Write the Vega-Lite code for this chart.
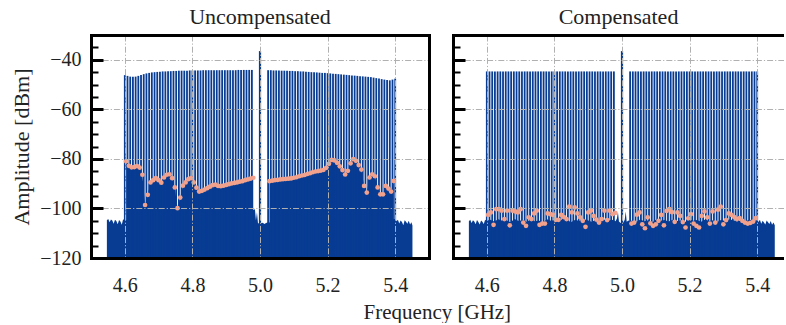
{
"$schema": "https://vega.github.io/schema/vega-lite/v6.json",
"background": "white",
"padding": {"left": 10, "top": 6, "right": 0, "bottom": 0},
"spacing": 24,
"bounds": "flush",
"config": {"view": {"stroke": null}, "font": "Liberation Serif, DejaVu Serif, serif", "title": {"font": "Liberation Serif, DejaVu Serif, serif", "fontWeight": "normal", "color": "#222222"}},
"title": {"text": "Frequency [GHz]", "orient": "bottom", "anchor": "middle", "fontSize": 21, "offset": 7, "dx": 40},
"datasets": {
"lo": [{"p":"U","f":5.0,"v":-36.5},{"p":"C","f":5.0,"v":-36.5}],
"floor": [
{"p":"U","f":4.547,"v":-104.8},{"p":"U","f":4.551,"v":-104.3},{"p":"U","f":4.555,"v":-105.6},{"p":"U","f":4.559,"v":-104.5},{"p":"U","f":4.563,"v":-104.9},{"p":"U","f":4.567,"v":-106.2},{"p":"U","f":4.571,"v":-104.6},{"p":"U","f":4.575,"v":-105.1},{"p":"U","f":4.579,"v":-106.4},{"p":"U","f":4.583,"v":-104.7},{"p":"U","f":4.587,"v":-105.3},{"p":"U","f":4.591,"v":-106.6},{"p":"U","f":4.595,"v":-104.4},{"p":"U","f":4.599,"v":-104.8},
{"p":"U","f":4.982,"v":-100.5},{"p":"U","f":4.985,"v":-100.3},{"p":"U","f":4.988,"v":-104.8},{"p":"U","f":4.991,"v":-101.5},{"p":"U","f":4.994,"v":-105.9},{"p":"U","f":4.998,"v":-106.2},{"p":"U","f":5.003,"v":-106.0},{"p":"U","f":5.008,"v":-105.8},{"p":"U","f":5.013,"v":-106.3},{"p":"U","f":5.018,"v":-105.9},{"p":"U","f":5.022,"v":-105.7},
{"p":"U","f":5.400,"v":-104.3},{"p":"U","f":5.404,"v":-105.2},{"p":"U","f":5.408,"v":-104.6},{"p":"U","f":5.412,"v":-106.1},{"p":"U","f":5.416,"v":-104.9},{"p":"U","f":5.420,"v":-105.5},{"p":"U","f":5.424,"v":-106.8},{"p":"U","f":5.428,"v":-104.8},{"p":"U","f":5.432,"v":-105.4},{"p":"U","f":5.436,"v":-106.2},{"p":"U","f":5.440,"v":-105.0},{"p":"U","f":5.444,"v":-106.5},{"p":"U","f":5.448,"v":-105.6},{"p":"U","f":5.451,"v":-106.9},
{"p":"C","f":4.547,"v":-105.2},{"p":"C","f":4.551,"v":-104.6},{"p":"C","f":4.555,"v":-105.9},{"p":"C","f":4.559,"v":-104.8},{"p":"C","f":4.563,"v":-105.3},{"p":"C","f":4.567,"v":-106.4},{"p":"C","f":4.571,"v":-104.7},{"p":"C","f":4.575,"v":-105.5},{"p":"C","f":4.579,"v":-106.5},{"p":"C","f":4.583,"v":-104.9},{"p":"C","f":4.587,"v":-105.4},{"p":"C","f":4.591,"v":-106.3},{"p":"C","f":4.595,"v":-104.6},{"p":"C","f":4.599,"v":-105.0},
{"p":"C","f":4.610,"v":-104.6},{"p":"C","f":4.622,"v":-105.3},{"p":"C","f":4.634,"v":-104.4},{"p":"C","f":4.646,"v":-105.0},{"p":"C","f":4.658,"v":-104.8},{"p":"C","f":4.670,"v":-105.6},{"p":"C","f":4.682,"v":-104.3},{"p":"C","f":4.694,"v":-105.1},{"p":"C","f":4.706,"v":-104.7},{"p":"C","f":4.718,"v":-105.4},{"p":"C","f":4.730,"v":-104.5},{"p":"C","f":4.742,"v":-105.2},{"p":"C","f":4.754,"v":-104.9},{"p":"C","f":4.766,"v":-105.7},{"p":"C","f":4.778,"v":-104.4},{"p":"C","f":4.790,"v":-105.0},{"p":"C","f":4.802,"v":-104.6},{"p":"C","f":4.814,"v":-105.3},{"p":"C","f":4.826,"v":-104.2},{"p":"C","f":4.838,"v":-104.9},{"p":"C","f":4.850,"v":-105.5},{"p":"C","f":4.862,"v":-104.6},{"p":"C","f":4.874,"v":-105.1},{"p":"C","f":4.886,"v":-104.3},{"p":"C","f":4.898,"v":-104.8},{"p":"C","f":4.910,"v":-105.4},{"p":"C","f":4.922,"v":-104.7},{"p":"C","f":4.934,"v":-105.2},{"p":"C","f":4.946,"v":-104.5},{"p":"C","f":4.958,"v":-105.0},{"p":"C","f":4.970,"v":-104.6},
{"p":"C","f":4.976,"v":-104.8},{"p":"C","f":4.981,"v":-105.2},{"p":"C","f":4.985,"v":-104.1},{"p":"C","f":4.988,"v":-101.4},{"p":"C","f":4.991,"v":-105.3},{"p":"C","f":4.996,"v":-105.9},{"p":"C","f":5.004,"v":-105.7},{"p":"C","f":5.008,"v":-104.6},{"p":"C","f":5.011,"v":-101.2},{"p":"C","f":5.014,"v":-105.4},{"p":"C","f":5.019,"v":-104.9},{"p":"C","f":5.024,"v":-105.2},
{"p":"C","f":5.030,"v":-104.9},{"p":"C","f":5.042,"v":-105.5},{"p":"C","f":5.054,"v":-104.5},{"p":"C","f":5.066,"v":-105.2},{"p":"C","f":5.078,"v":-104.8},{"p":"C","f":5.090,"v":-105.6},{"p":"C","f":5.102,"v":-104.4},{"p":"C","f":5.114,"v":-105.0},{"p":"C","f":5.126,"v":-104.7},{"p":"C","f":5.138,"v":-105.3},{"p":"C","f":5.150,"v":-104.6},{"p":"C","f":5.162,"v":-105.1},{"p":"C","f":5.174,"v":-104.9},{"p":"C","f":5.186,"v":-105.6},{"p":"C","f":5.198,"v":-104.3},{"p":"C","f":5.210,"v":-105.0},{"p":"C","f":5.222,"v":-104.7},{"p":"C","f":5.234,"v":-105.4},{"p":"C","f":5.246,"v":-104.5},{"p":"C","f":5.258,"v":-105.1},{"p":"C","f":5.270,"v":-104.8},{"p":"C","f":5.282,"v":-105.5},{"p":"C","f":5.294,"v":-104.6},{"p":"C","f":5.306,"v":-105.2},{"p":"C","f":5.318,"v":-104.4},{"p":"C","f":5.330,"v":-104.9},{"p":"C","f":5.342,"v":-105.3},{"p":"C","f":5.354,"v":-104.7},{"p":"C","f":5.366,"v":-105.1},{"p":"C","f":5.378,"v":-104.6},{"p":"C","f":5.390,"v":-105.0},
{"p":"C","f":5.400,"v":-104.8},{"p":"C","f":5.404,"v":-105.5},{"p":"C","f":5.408,"v":-104.6},{"p":"C","f":5.412,"v":-106.2},{"p":"C","f":5.416,"v":-105.0},{"p":"C","f":5.420,"v":-105.7},{"p":"C","f":5.424,"v":-106.5},{"p":"C","f":5.428,"v":-104.9},{"p":"C","f":5.432,"v":-105.6},{"p":"C","f":5.436,"v":-106.3},{"p":"C","f":5.440,"v":-105.1},{"p":"C","f":5.444,"v":-106.6},{"p":"C","f":5.448,"v":-105.7},{"p":"C","f":5.452,"v":-106.8}
],
"tones": [
{"p":"U","f":4.600,"v":-46.2},{"p":"U","f":4.608,"v":-46.5},{"p":"U","f":4.616,"v":-46.8},{"p":"U","f":4.624,"v":-46.9},{"p":"U","f":4.632,"v":-46.8},{"p":"U","f":4.640,"v":-46.5},{"p":"U","f":4.648,"v":-46.1},{"p":"U","f":4.656,"v":-45.8},{"p":"U","f":4.664,"v":-45.5},{"p":"U","f":4.672,"v":-45.3},{"p":"U","f":4.680,"v":-45.1},{"p":"U","f":4.688,"v":-45.0},{"p":"U","f":4.696,"v":-44.9},{"p":"U","f":4.704,"v":-44.8},{"p":"U","f":4.712,"v":-44.7},{"p":"U","f":4.720,"v":-44.7},{"p":"U","f":4.728,"v":-44.6},{"p":"U","f":4.736,"v":-44.6},{"p":"U","f":4.744,"v":-44.5},{"p":"U","f":4.752,"v":-44.5},{"p":"U","f":4.760,"v":-44.4},{"p":"U","f":4.768,"v":-44.4},{"p":"U","f":4.776,"v":-44.4},{"p":"U","f":4.784,"v":-44.4},{"p":"U","f":4.792,"v":-44.3},{"p":"U","f":4.800,"v":-44.3},{"p":"U","f":4.808,"v":-44.3},{"p":"U","f":4.816,"v":-44.3},{"p":"U","f":4.824,"v":-44.3},{"p":"U","f":4.832,"v":-44.2},{"p":"U","f":4.840,"v":-44.2},{"p":"U","f":4.848,"v":-44.2},{"p":"U","f":4.856,"v":-44.2},{"p":"U","f":4.864,"v":-44.2},{"p":"U","f":4.872,"v":-44.2},{"p":"U","f":4.880,"v":-44.2},{"p":"U","f":4.888,"v":-44.2},{"p":"U","f":4.896,"v":-44.2},{"p":"U","f":4.904,"v":-44.2},{"p":"U","f":4.912,"v":-44.2},{"p":"U","f":4.920,"v":-44.2},{"p":"U","f":4.928,"v":-44.2},{"p":"U","f":4.936,"v":-44.1},{"p":"U","f":4.944,"v":-44.1},{"p":"U","f":4.952,"v":-44.1},{"p":"U","f":4.960,"v":-44.1},{"p":"U","f":4.968,"v":-44.1},{"p":"U","f":4.976,"v":-44.1},
{"p":"U","f":5.024,"v":-44.2},{"p":"U","f":5.032,"v":-44.2},{"p":"U","f":5.040,"v":-44.3},{"p":"U","f":5.048,"v":-44.3},{"p":"U","f":5.056,"v":-44.3},{"p":"U","f":5.064,"v":-44.4},{"p":"U","f":5.072,"v":-44.4},{"p":"U","f":5.080,"v":-44.4},{"p":"U","f":5.088,"v":-44.5},{"p":"U","f":5.096,"v":-44.5},{"p":"U","f":5.104,"v":-44.6},{"p":"U","f":5.112,"v":-44.6},{"p":"U","f":5.120,"v":-44.7},{"p":"U","f":5.128,"v":-44.7},{"p":"U","f":5.136,"v":-44.8},{"p":"U","f":5.144,"v":-44.9},{"p":"U","f":5.152,"v":-45.0},{"p":"U","f":5.160,"v":-45.0},{"p":"U","f":5.168,"v":-45.1},{"p":"U","f":5.176,"v":-45.2},{"p":"U","f":5.184,"v":-45.3},{"p":"U","f":5.192,"v":-45.3},{"p":"U","f":5.200,"v":-45.4},{"p":"U","f":5.208,"v":-45.5},{"p":"U","f":5.216,"v":-45.6},{"p":"U","f":5.224,"v":-45.7},{"p":"U","f":5.232,"v":-45.8},{"p":"U","f":5.240,"v":-45.9},{"p":"U","f":5.248,"v":-46.0},{"p":"U","f":5.256,"v":-46.1},{"p":"U","f":5.264,"v":-46.2},{"p":"U","f":5.272,"v":-46.3},{"p":"U","f":5.280,"v":-46.4},{"p":"U","f":5.288,"v":-46.5},{"p":"U","f":5.296,"v":-46.6},{"p":"U","f":5.304,"v":-46.7},{"p":"U","f":5.312,"v":-46.8},{"p":"U","f":5.320,"v":-46.9},{"p":"U","f":5.328,"v":-47.0},{"p":"U","f":5.336,"v":-47.2},{"p":"U","f":5.344,"v":-47.4},{"p":"U","f":5.352,"v":-47.6},{"p":"U","f":5.360,"v":-47.8},{"p":"U","f":5.368,"v":-48.0},{"p":"U","f":5.376,"v":-48.2},{"p":"U","f":5.384,"v":-48.3},{"p":"U","f":5.392,"v":-48.0},{"p":"U","f":5.400,"v":-47.6},
{"p":"C","f":4.600,"v":-44.7},{"p":"C","f":4.608,"v":-44.7},{"p":"C","f":4.616,"v":-44.7},{"p":"C","f":4.624,"v":-44.7},{"p":"C","f":4.632,"v":-44.7},{"p":"C","f":4.640,"v":-44.7},{"p":"C","f":4.648,"v":-44.7},{"p":"C","f":4.656,"v":-44.7},{"p":"C","f":4.664,"v":-44.7},{"p":"C","f":4.672,"v":-44.7},{"p":"C","f":4.680,"v":-44.7},{"p":"C","f":4.688,"v":-44.7},{"p":"C","f":4.696,"v":-44.7},{"p":"C","f":4.704,"v":-44.7},{"p":"C","f":4.712,"v":-44.7},{"p":"C","f":4.720,"v":-44.7},{"p":"C","f":4.728,"v":-44.7},{"p":"C","f":4.736,"v":-44.7},{"p":"C","f":4.744,"v":-44.7},{"p":"C","f":4.752,"v":-44.7},{"p":"C","f":4.760,"v":-44.7},{"p":"C","f":4.768,"v":-44.7},{"p":"C","f":4.776,"v":-44.7},{"p":"C","f":4.784,"v":-44.7},{"p":"C","f":4.792,"v":-44.7},{"p":"C","f":4.800,"v":-44.7},{"p":"C","f":4.808,"v":-44.7},{"p":"C","f":4.816,"v":-44.7},{"p":"C","f":4.824,"v":-44.7},{"p":"C","f":4.832,"v":-44.7},{"p":"C","f":4.840,"v":-44.7},{"p":"C","f":4.848,"v":-44.7},{"p":"C","f":4.856,"v":-44.7},{"p":"C","f":4.864,"v":-44.7},{"p":"C","f":4.872,"v":-44.7},{"p":"C","f":4.880,"v":-44.7},{"p":"C","f":4.888,"v":-44.7},{"p":"C","f":4.896,"v":-44.7},{"p":"C","f":4.904,"v":-44.7},{"p":"C","f":4.912,"v":-44.7},{"p":"C","f":4.920,"v":-44.7},{"p":"C","f":4.928,"v":-44.7},{"p":"C","f":4.936,"v":-44.7},{"p":"C","f":4.944,"v":-44.7},{"p":"C","f":4.952,"v":-44.7},{"p":"C","f":4.960,"v":-44.7},{"p":"C","f":4.968,"v":-44.7},{"p":"C","f":4.976,"v":-44.7},
{"p":"C","f":5.024,"v":-44.7},{"p":"C","f":5.032,"v":-44.7},{"p":"C","f":5.040,"v":-44.7},{"p":"C","f":5.048,"v":-44.7},{"p":"C","f":5.056,"v":-44.7},{"p":"C","f":5.064,"v":-44.7},{"p":"C","f":5.072,"v":-44.7},{"p":"C","f":5.080,"v":-44.7},{"p":"C","f":5.088,"v":-44.7},{"p":"C","f":5.096,"v":-44.7},{"p":"C","f":5.104,"v":-44.7},{"p":"C","f":5.112,"v":-44.7},{"p":"C","f":5.120,"v":-44.7},{"p":"C","f":5.128,"v":-44.7},{"p":"C","f":5.136,"v":-44.7},{"p":"C","f":5.144,"v":-44.7},{"p":"C","f":5.152,"v":-44.7},{"p":"C","f":5.160,"v":-44.7},{"p":"C","f":5.168,"v":-44.7},{"p":"C","f":5.176,"v":-44.7},{"p":"C","f":5.184,"v":-44.7},{"p":"C","f":5.192,"v":-44.7},{"p":"C","f":5.200,"v":-44.7},{"p":"C","f":5.208,"v":-44.7},{"p":"C","f":5.216,"v":-44.7},{"p":"C","f":5.224,"v":-44.7},{"p":"C","f":5.232,"v":-44.7},{"p":"C","f":5.240,"v":-44.7},{"p":"C","f":5.248,"v":-44.7},{"p":"C","f":5.256,"v":-44.7},{"p":"C","f":5.264,"v":-44.7},{"p":"C","f":5.272,"v":-44.7},{"p":"C","f":5.280,"v":-44.7},{"p":"C","f":5.288,"v":-44.7},{"p":"C","f":5.296,"v":-44.7},{"p":"C","f":5.304,"v":-44.7},{"p":"C","f":5.312,"v":-44.7},{"p":"C","f":5.320,"v":-44.7},{"p":"C","f":5.328,"v":-44.7},{"p":"C","f":5.336,"v":-44.7},{"p":"C","f":5.344,"v":-44.7},{"p":"C","f":5.352,"v":-44.7},{"p":"C","f":5.360,"v":-44.7},{"p":"C","f":5.368,"v":-44.7},{"p":"C","f":5.376,"v":-44.7},{"p":"C","f":5.384,"v":-44.7},{"p":"C","f":5.392,"v":-44.7},{"p":"C","f":5.400,"v":-44.7}
],
"imd": [
{"p":"U","sb":"lower","f":4.604,"v":-81.0},{"p":"U","sb":"lower","f":4.612,"v":-82.8},{"p":"U","sb":"lower","f":4.620,"v":-83.4},{"p":"U","sb":"lower","f":4.628,"v":-83.3},{"p":"U","sb":"lower","f":4.636,"v":-82.9},{"p":"U","sb":"lower","f":4.644,"v":-83.5},{"p":"U","sb":"lower","f":4.652,"v":-86.4},{"p":"U","sb":"lower","f":4.660,"v":-98.6},{"p":"U","sb":"lower","f":4.668,"v":-94.5},{"p":"U","sb":"lower","f":4.676,"v":-89.5},{"p":"U","sb":"lower","f":4.684,"v":-88.6},{"p":"U","sb":"lower","f":4.692,"v":-87.8},{"p":"U","sb":"lower","f":4.700,"v":-88.6},{"p":"U","sb":"lower","f":4.708,"v":-89.6},{"p":"U","sb":"lower","f":4.716,"v":-87.5},{"p":"U","sb":"lower","f":4.724,"v":-86.4},{"p":"U","sb":"lower","f":4.732,"v":-86.2},{"p":"U","sb":"lower","f":4.740,"v":-87.8},{"p":"U","sb":"lower","f":4.748,"v":-91.5},{"p":"U","sb":"lower","f":4.756,"v":-99.9},{"p":"U","sb":"lower","f":4.764,"v":-95.6},{"p":"U","sb":"lower","f":4.772,"v":-90.8},{"p":"U","sb":"lower","f":4.780,"v":-89.5},{"p":"U","sb":"lower","f":4.788,"v":-88.2},{"p":"U","sb":"lower","f":4.796,"v":-87.8},{"p":"U","sb":"lower","f":4.804,"v":-89.5},{"p":"U","sb":"lower","f":4.812,"v":-91.6},{"p":"U","sb":"lower","f":4.820,"v":-93.2},{"p":"U","sb":"lower","f":4.828,"v":-92.9},{"p":"U","sb":"lower","f":4.836,"v":-92.4},{"p":"U","sb":"lower","f":4.844,"v":-91.8},{"p":"U","sb":"lower","f":4.852,"v":-91.2},{"p":"U","sb":"lower","f":4.860,"v":-90.6},{"p":"U","sb":"lower","f":4.868,"v":-90.4},{"p":"U","sb":"lower","f":4.876,"v":-90.9},{"p":"U","sb":"lower","f":4.884,"v":-91.0},{"p":"U","sb":"lower","f":4.892,"v":-90.8},{"p":"U","sb":"lower","f":4.900,"v":-90.5},{"p":"U","sb":"lower","f":4.908,"v":-90.2},{"p":"U","sb":"lower","f":4.916,"v":-89.9},{"p":"U","sb":"lower","f":4.924,"v":-89.7},{"p":"U","sb":"lower","f":4.932,"v":-89.5},{"p":"U","sb":"lower","f":4.940,"v":-89.2},{"p":"U","sb":"lower","f":4.948,"v":-89.0},{"p":"U","sb":"lower","f":4.956,"v":-88.6},{"p":"U","sb":"lower","f":4.964,"v":-88.3},{"p":"U","sb":"lower","f":4.972,"v":-88.0},{"p":"U","sb":"lower","f":4.980,"v":-87.6},
{"p":"U","sb":"upper","f":5.028,"v":-89.0},{"p":"U","sb":"upper","f":5.036,"v":-88.8},{"p":"U","sb":"upper","f":5.044,"v":-88.6},{"p":"U","sb":"upper","f":5.052,"v":-88.5},{"p":"U","sb":"upper","f":5.060,"v":-88.3},{"p":"U","sb":"upper","f":5.068,"v":-88.2},{"p":"U","sb":"upper","f":5.076,"v":-88.1},{"p":"U","sb":"upper","f":5.084,"v":-88.0},{"p":"U","sb":"upper","f":5.092,"v":-87.9},{"p":"U","sb":"upper","f":5.100,"v":-87.6},{"p":"U","sb":"upper","f":5.108,"v":-87.4},{"p":"U","sb":"upper","f":5.116,"v":-87.0},{"p":"U","sb":"upper","f":5.124,"v":-86.7},{"p":"U","sb":"upper","f":5.132,"v":-86.5},{"p":"U","sb":"upper","f":5.140,"v":-86.1},{"p":"U","sb":"upper","f":5.148,"v":-85.8},{"p":"U","sb":"upper","f":5.156,"v":-85.4},{"p":"U","sb":"upper","f":5.164,"v":-85.1},{"p":"U","sb":"upper","f":5.172,"v":-84.9},{"p":"U","sb":"upper","f":5.180,"v":-84.7},{"p":"U","sb":"upper","f":5.188,"v":-84.4},{"p":"U","sb":"upper","f":5.196,"v":-83.6},{"p":"U","sb":"upper","f":5.204,"v":-82.0},{"p":"U","sb":"upper","f":5.212,"v":-80.4},{"p":"U","sb":"upper","f":5.220,"v":-80.6},{"p":"U","sb":"upper","f":5.228,"v":-81.6},{"p":"U","sb":"upper","f":5.236,"v":-83.0},{"p":"U","sb":"upper","f":5.244,"v":-84.5},{"p":"U","sb":"upper","f":5.252,"v":-86.3},{"p":"U","sb":"upper","f":5.260,"v":-84.8},{"p":"U","sb":"upper","f":5.268,"v":-81.8},{"p":"U","sb":"upper","f":5.276,"v":-80.1},{"p":"U","sb":"upper","f":5.284,"v":-80.8},{"p":"U","sb":"upper","f":5.292,"v":-82.5},{"p":"U","sb":"upper","f":5.300,"v":-84.3},{"p":"U","sb":"upper","f":5.308,"v":-90.9},{"p":"U","sb":"upper","f":5.316,"v":-93.6},{"p":"U","sb":"upper","f":5.324,"v":-87.5},{"p":"U","sb":"upper","f":5.332,"v":-86.2},{"p":"U","sb":"upper","f":5.340,"v":-87.0},{"p":"U","sb":"upper","f":5.348,"v":-91.5},{"p":"U","sb":"upper","f":5.356,"v":-94.3},{"p":"U","sb":"upper","f":5.364,"v":-94.3},{"p":"U","sb":"upper","f":5.372,"v":-90.9},{"p":"U","sb":"upper","f":5.380,"v":-92.0},{"p":"U","sb":"upper","f":5.388,"v":-93.2},{"p":"U","sb":"upper","f":5.396,"v":-88.9},
{"p":"C","sb":"lower","f":4.604,"v":-102.6},{"p":"C","sb":"lower","f":4.612,"v":-101.6},{"p":"C","sb":"lower","f":4.620,"v":-106.6},{"p":"C","sb":"lower","f":4.628,"v":-100.3},{"p":"C","sb":"lower","f":4.636,"v":-100.3},{"p":"C","sb":"lower","f":4.644,"v":-100.9},{"p":"C","sb":"lower","f":4.652,"v":-104.3},{"p":"C","sb":"lower","f":4.660,"v":-100.9},{"p":"C","sb":"lower","f":4.668,"v":-106.8},{"p":"C","sb":"lower","f":4.676,"v":-100.9},{"p":"C","sb":"lower","f":4.684,"v":-101.2},{"p":"C","sb":"lower","f":4.692,"v":-101.6},{"p":"C","sb":"lower","f":4.700,"v":-100.3},{"p":"C","sb":"lower","f":4.708,"v":-105.7},{"p":"C","sb":"lower","f":4.716,"v":-107.0},{"p":"C","sb":"lower","f":4.724,"v":-103.6},{"p":"C","sb":"lower","f":4.732,"v":-104.3},{"p":"C","sb":"lower","f":4.740,"v":-102.0},{"p":"C","sb":"lower","f":4.748,"v":-100.9},{"p":"C","sb":"lower","f":4.756,"v":-106.6},{"p":"C","sb":"lower","f":4.764,"v":-106.1},{"p":"C","sb":"lower","f":4.772,"v":-106.1},{"p":"C","sb":"lower","f":4.780,"v":-102.0},{"p":"C","sb":"lower","f":4.788,"v":-102.3},{"p":"C","sb":"lower","f":4.796,"v":-102.6},{"p":"C","sb":"lower","f":4.804,"v":-104.6},{"p":"C","sb":"lower","f":4.812,"v":-104.6},{"p":"C","sb":"lower","f":4.820,"v":-102.6},{"p":"C","sb":"lower","f":4.828,"v":-103.5},{"p":"C","sb":"lower","f":4.836,"v":-104.3},{"p":"C","sb":"lower","f":4.844,"v":-99.3},{"p":"C","sb":"lower","f":4.852,"v":-101.6},{"p":"C","sb":"lower","f":4.860,"v":-99.6},{"p":"C","sb":"lower","f":4.868,"v":-102.0},{"p":"C","sb":"lower","f":4.876,"v":-103.6},{"p":"C","sb":"lower","f":4.884,"v":-105.0},{"p":"C","sb":"lower","f":4.892,"v":-107.4},{"p":"C","sb":"lower","f":4.900,"v":-101.6},{"p":"C","sb":"lower","f":4.908,"v":-100.9},{"p":"C","sb":"lower","f":4.916,"v":-103.0},{"p":"C","sb":"lower","f":4.924,"v":-104.5},{"p":"C","sb":"lower","f":4.932,"v":-105.7},{"p":"C","sb":"lower","f":4.940,"v":-104.3},{"p":"C","sb":"lower","f":4.948,"v":-100.9},{"p":"C","sb":"lower","f":4.956,"v":-104.7},{"p":"C","sb":"lower","f":4.964,"v":-100.9},{"p":"C","sb":"lower","f":4.972,"v":-102.3},{"p":"C","sb":"lower","f":4.980,"v":-101.8},
{"p":"C","sb":"upper","f":5.028,"v":-106.1},{"p":"C","sb":"upper","f":5.036,"v":-105.7},{"p":"C","sb":"upper","f":5.044,"v":-102.5},{"p":"C","sb":"upper","f":5.052,"v":-101.6},{"p":"C","sb":"upper","f":5.060,"v":-106.4},{"p":"C","sb":"upper","f":5.068,"v":-108.0},{"p":"C","sb":"upper","f":5.076,"v":-103.6},{"p":"C","sb":"upper","f":5.084,"v":-106.0},{"p":"C","sb":"upper","f":5.092,"v":-107.0},{"p":"C","sb":"upper","f":5.100,"v":-106.4},{"p":"C","sb":"upper","f":5.108,"v":-105.0},{"p":"C","sb":"upper","f":5.116,"v":-102.6},{"p":"C","sb":"upper","f":5.124,"v":-106.8},{"p":"C","sb":"upper","f":5.132,"v":-101.0},{"p":"C","sb":"upper","f":5.140,"v":-100.3},{"p":"C","sb":"upper","f":5.148,"v":-101.5},{"p":"C","sb":"upper","f":5.156,"v":-105.4},{"p":"C","sb":"upper","f":5.164,"v":-101.6},{"p":"C","sb":"upper","f":5.172,"v":-103.0},{"p":"C","sb":"upper","f":5.180,"v":-105.5},{"p":"C","sb":"upper","f":5.188,"v":-107.7},{"p":"C","sb":"upper","f":5.196,"v":-104.0},{"p":"C","sb":"upper","f":5.204,"v":-102.3},{"p":"C","sb":"upper","f":5.212,"v":-106.1},{"p":"C","sb":"upper","f":5.220,"v":-107.0},{"p":"C","sb":"upper","f":5.228,"v":-107.7},{"p":"C","sb":"upper","f":5.236,"v":-103.0},{"p":"C","sb":"upper","f":5.244,"v":-101.2},{"p":"C","sb":"upper","f":5.252,"v":-103.6},{"p":"C","sb":"upper","f":5.260,"v":-106.1},{"p":"C","sb":"upper","f":5.268,"v":-101.2},{"p":"C","sb":"upper","f":5.276,"v":-105.7},{"p":"C","sb":"upper","f":5.284,"v":-100.5},{"p":"C","sb":"upper","f":5.292,"v":-99.3},{"p":"C","sb":"upper","f":5.300,"v":-106.4},{"p":"C","sb":"upper","f":5.308,"v":-104.7},{"p":"C","sb":"upper","f":5.316,"v":-102.0},{"p":"C","sb":"upper","f":5.324,"v":-102.6},{"p":"C","sb":"upper","f":5.332,"v":-103.5},{"p":"C","sb":"upper","f":5.340,"v":-104.3},{"p":"C","sb":"upper","f":5.348,"v":-103.9},{"p":"C","sb":"upper","f":5.356,"v":-105.0},{"p":"C","sb":"upper","f":5.364,"v":-105.7},{"p":"C","sb":"upper","f":5.372,"v":-106.1},{"p":"C","sb":"upper","f":5.380,"v":-105.8},{"p":"C","sb":"upper","f":5.388,"v":-105.3},{"p":"C","sb":"upper","f":5.396,"v":-103.9}
]
},
"hconcat": [
{
"width": 338, "height": 223,
"title": {"text": "Uncompensated", "fontSize": 22, "offset": 6},
"resolve": {"axis": {"x": "independent", "y": "independent"}},
"layer": [
{"data": {"name": "floor"}, "transform": [{"filter": "datum.p == 'U'"}],
 "mark": {"type": "area", "color": "#083c93", "interpolate": "linear"},
 "encoding": {
  "x": {"field": "f", "type": "quantitative", "scale": {"domain": [4.5, 5.5], "nice": false, "zero": false},
   "axis": {"orient": "bottom", "values": [4.6, 4.8, 5.0, 5.2, 5.4], "format": ".1f", "title": null, "domain": true, "domainColor": "#000000", "domainWidth": 3, "domainCap": "square", "ticks": false, "labelPadding": 17, "labelFont": "Liberation Serif, DejaVu Serif, serif", "labelFontSize": 20, "labelColor": "#222222", "grid": true, "gridColor": "#b0b0b0", "gridWidth": 1, "gridDash": [6, 2, 1.2, 2], "zindex": 1}},
  "y": {"field": "v", "type": "quantitative", "scale": {"domain": [-120, -30], "nice": false, "zero": false},
   "axis": {"orient": "left", "values": [-120, -100, -80, -60, -40], "title": "Amplitude [dBm]", "titleFont": "Liberation Serif, DejaVu Serif, serif", "titleFontSize": 22, "titleFontWeight": "normal", "titleColor": "#222222", "titlePadding": 6, "labelFont": "Liberation Serif, DejaVu Serif, serif", "labelFontSize": 20, "labelColor": "#222222", "labelPadding": 10, "domain": true, "domainColor": "#000000", "domainWidth": 3, "domainCap": "square", "ticks": false, "grid": true, "gridColor": "#b0b0b0", "gridWidth": 1, "gridDash": [6, 2, 1.2, 2], "zindex": 1}},
  "y2": {"datum": -120}
 }},
{"data": {"name": "imd"}, "transform": [{"filter": "datum.p == 'U'"}],
 "mark": {"type": "area", "color": "#083c93", "interpolate": "linear"},
 "encoding": {
  "x": {"field": "f", "type": "quantitative", "scale": {"domain": [4.5, 5.5], "nice": false, "zero": false}, "axis": null},
  "y": {"field": "v", "type": "quantitative", "scale": {"domain": [-120, -30], "nice": false, "zero": false}, "axis": null},
  "y2": {"datum": -120},
  "detail": {"field": "sb", "type": "nominal"}
 }},
{"data": {"name": "tones"}, "transform": [{"filter": "datum.p == 'U'"}],
 "mark": {"type": "rule", "color": "#083c93", "strokeWidth": 1.8},
 "encoding": {
  "x": {"field": "f", "type": "quantitative", "scale": {"domain": [4.5, 5.5], "nice": false, "zero": false},
   "axis": {"orient": "top", "title": null, "labels": false, "ticks": false, "grid": false, "domain": true, "domainColor": "#000000", "domainWidth": 3, "domainCap": "square", "zindex": 1}},
  "y": {"field": "v", "type": "quantitative", "scale": {"domain": [-120, -30], "nice": false, "zero": false},
   "axis": {"orient": "right", "title": null, "labels": false, "ticks": false, "grid": false, "domain": true, "domainColor": "#000000", "domainWidth": 3, "domainCap": "square", "zindex": 1}},
  "y2": {"datum": -120}
 }},
{"data": {"name": "lo"}, "transform": [{"filter": "datum.p == 'U'"}],
 "mark": {"type": "rule", "color": "#083c93", "strokeWidth": 2.2},
 "encoding": {
  "x": {"field": "f", "type": "quantitative", "scale": {"domain": [4.5, 5.5], "nice": false, "zero": false}, "axis": null},
  "y": {"field": "v", "type": "quantitative", "scale": {"domain": [-120, -30], "nice": false, "zero": false}, "axis": null},
  "y2": {"datum": -120}
 }},
{"data": {"name": "imd"}, "transform": [{"filter": "datum.p == 'U'"}],
 "mark": {"type": "circle", "color": "#f2a28c", "size": 22, "opacity": 1},
 "encoding": {
  "x": {"field": "f", "type": "quantitative", "scale": {"domain": [4.5, 5.5], "nice": false, "zero": false}, "axis": null},
  "y": {"field": "v", "type": "quantitative", "scale": {"domain": [-120, -30], "nice": false, "zero": false},
   "axis": {"orient": "right", "offset": -338, "values": [-120, -115, -110, -105, -100, -95, -90, -85, -80, -75, -70, -65, -60, -55, -50, -45, -40, -35], "title": null, "labels": false, "domain": false, "grid": false, "ticks": true, "tickColor": "#000000", "tickSize": {"condition": {"test": "datum.value % 20 === 0", "value": 12}, "value": 7}, "tickWidth": {"condition": {"test": "datum.value % 20 === 0", "value": 3}, "value": 2}, "zindex": 1}}
 }}
]
},
{
"width": 331, "height": 223,
"title": {"text": "Compensated", "fontSize": 22, "offset": 6},
"resolve": {"axis": {"x": "independent", "y": "independent"}},
"layer": [
{"data": {"name": "floor"}, "transform": [{"filter": "datum.p == 'C'"}],
 "mark": {"type": "area", "color": "#083c93", "interpolate": "linear"},
 "encoding": {
  "x": {"field": "f", "type": "quantitative", "scale": {"domain": [4.5, 5.4793], "nice": false, "zero": false},
   "axis": {"orient": "bottom", "values": [4.6, 4.8, 5.0, 5.2, 5.4], "format": ".1f", "title": null, "domain": true, "domainColor": "#000000", "domainWidth": 3, "domainCap": "square", "ticks": false, "labelPadding": 17, "labelFont": "Liberation Serif, DejaVu Serif, serif", "labelFontSize": 20, "labelColor": "#222222", "grid": true, "gridColor": "#b0b0b0", "gridWidth": 1, "gridDash": [6, 2, 1.2, 2], "zindex": 1}},
  "y": {"field": "v", "type": "quantitative", "scale": {"domain": [-120, -30], "nice": false, "zero": false},
   "axis": {"orient": "left", "values": [-120, -100, -80, -60, -40], "labels": false, "title": null, "domain": true, "domainColor": "#000000", "domainWidth": 3, "domainCap": "square", "ticks": false, "grid": true, "gridColor": "#b0b0b0", "gridWidth": 1, "gridDash": [6, 2, 1.2, 2], "zindex": 1}},
  "y2": {"datum": -120}
 }},
{"data": {"name": "tones"}, "transform": [{"filter": "datum.p == 'C'"}],
 "mark": {"type": "rule", "color": "#083c93", "strokeWidth": 1.8},
 "encoding": {
  "x": {"field": "f", "type": "quantitative", "scale": {"domain": [4.5, 5.4793], "nice": false, "zero": false},
   "axis": {"orient": "top", "title": null, "labels": false, "ticks": false, "grid": false, "domain": true, "domainColor": "#000000", "domainWidth": 3, "domainCap": "square", "zindex": 1}},
  "y": {"field": "v", "type": "quantitative", "scale": {"domain": [-120, -30], "nice": false, "zero": false}, "axis": null},
  "y2": {"datum": -120}
 }},
{"data": {"name": "lo"}, "transform": [{"filter": "datum.p == 'C'"}],
 "mark": {"type": "rule", "color": "#083c93", "strokeWidth": 2.2},
 "encoding": {
  "x": {"field": "f", "type": "quantitative", "scale": {"domain": [4.5, 5.4793], "nice": false, "zero": false}, "axis": null},
  "y": {"field": "v", "type": "quantitative", "scale": {"domain": [-120, -30], "nice": false, "zero": false}, "axis": null},
  "y2": {"datum": -120}
 }},
{"data": {"name": "imd"}, "transform": [{"filter": "datum.p == 'C'"}],
 "mark": {"type": "circle", "color": "#f2a28c", "size": 22, "opacity": 1},
 "encoding": {
  "x": {"field": "f", "type": "quantitative", "scale": {"domain": [4.5, 5.4793], "nice": false, "zero": false}, "axis": null},
  "y": {"field": "v", "type": "quantitative", "scale": {"domain": [-120, -30], "nice": false, "zero": false},
   "axis": {"orient": "right", "offset": -331, "values": [-120, -115, -110, -105, -100, -95, -90, -85, -80, -75, -70, -65, -60, -55, -50, -45, -40, -35], "title": null, "labels": false, "domain": false, "grid": false, "ticks": true, "tickColor": "#000000", "tickSize": {"condition": {"test": "datum.value % 20 === 0", "value": 12}, "value": 7}, "tickWidth": {"condition": {"test": "datum.value % 20 === 0", "value": 3}, "value": 2}, "zindex": 1}}
 }}
]
}
]
}
